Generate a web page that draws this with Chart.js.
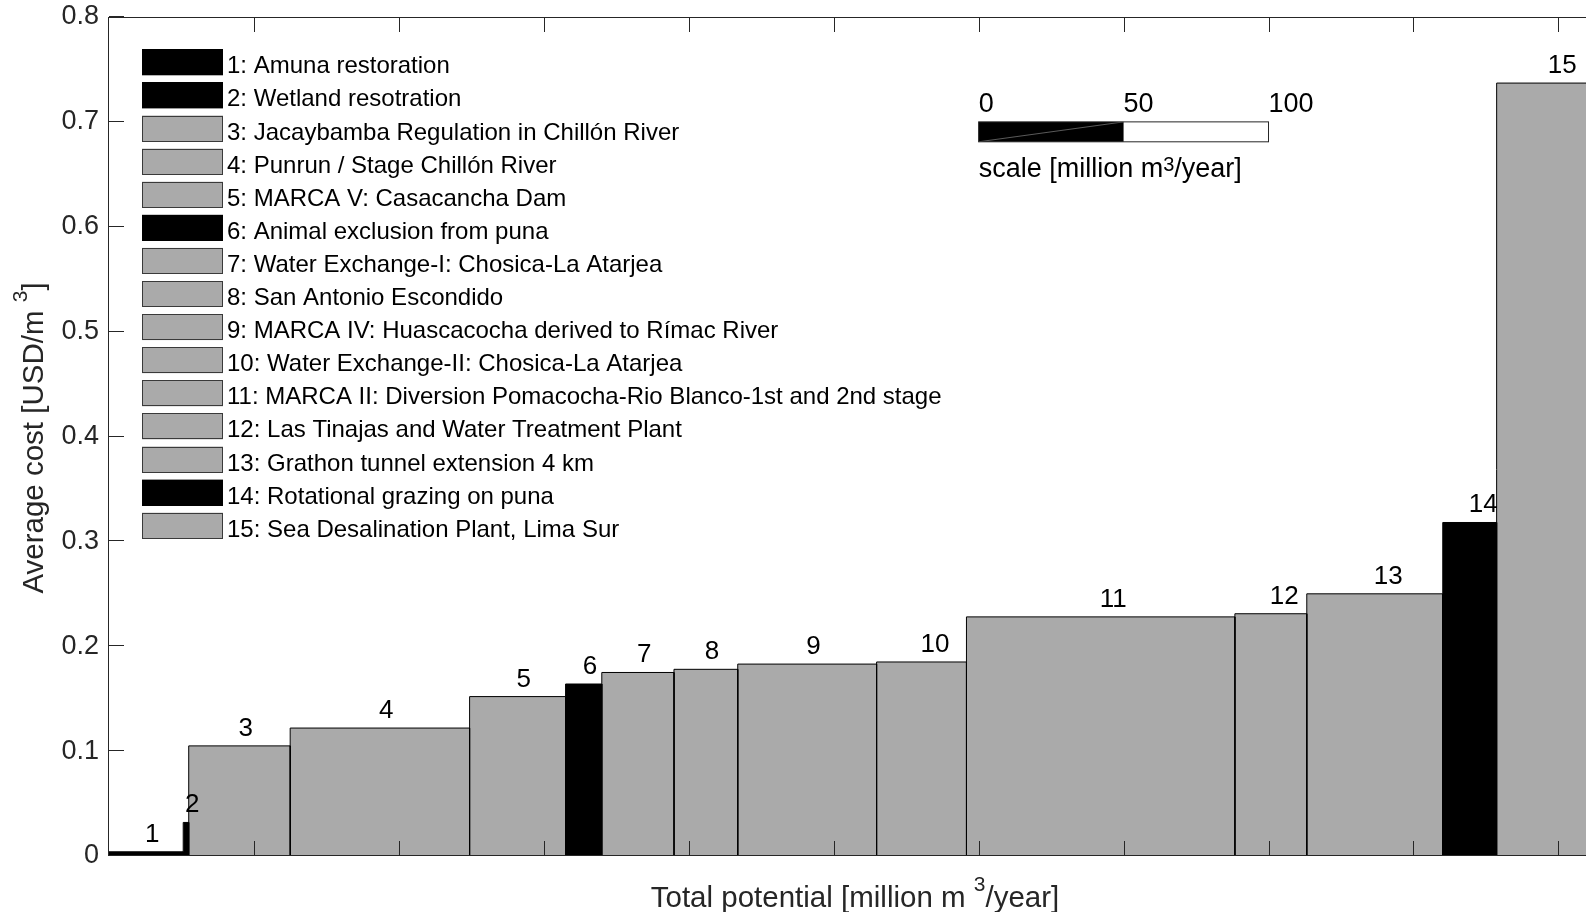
<!DOCTYPE html>
<html>
<head>
<meta charset="utf-8">
<title>Average cost curve - Lima water supply measures</title>
<script src="https://cdn.jsdelivr.net/npm/chart.js@4.4.1/dist/chart.umd.min.js"></script>
<style>
  html, body { margin: 0; padding: 0; background: #fff; overflow: hidden; }
  canvas { display: block; }
</style>
</head>
<body>
<canvas id="costChart" width="1602" height="912"></canvas>
<script>
// measures, in the order of the cost curve
const projects = [
  'Amuna restoration',
  'Wetland resotration',
  'Jacaybamba Regulation in Chillón River',
  'Punrun / Stage Chillón River',
  'MARCA V: Casacancha Dam',
  'Animal exclusion from puna',
  'Water Exchange-I: Chosica-La Atarjea',
  'San Antonio Escondido',
  'MARCA IV: Huascacocha derived to Rímac River',
  'Water Exchange-II: Chosica-La Atarjea',
  'MARCA II: Diversion Pomacocha-Rio Blanco-1st and 2nd stage',
  'Las Tinajas and Water Treatment Plant',
  'Grathon tunnel extension 4 km',
  'Rotational grazing on puna',
  'Sea Desalination Plant, Lima Sur'
];
// potential of each measure [million m3/year] -> bar width
const potential = [25.6, 1.9, 35.0, 61.9, 33.1, 12.5, 24.9, 22.0, 47.9, 31.0, 92.6, 24.8, 46.9, 18.6, 36.0];
// average cost [USD/m3] -> bar height
const avgCost = [0.004, 0.032, 0.105, 0.122, 0.152, 0.164, 0.175, 0.178, 0.183, 0.185, 0.228, 0.231, 0.250, 0.318, 0.737];
// green = natural infrastructure (black), grey = built infrastructure
const kind = ['green', 'green', 'grey', 'grey', 'grey', 'green', 'grey', 'grey', 'grey', 'grey', 'grey', 'grey', 'grey', 'green', 'grey'];

const yTickStep = 0.1;
const xTickStep = 50;           // unlabelled ticks on the potential axis
const scaleBarTicks = [0, 50, 100];

const FONT = '"Liberation Sans", Arial, Helvetica, sans-serif';
const INK = '#262626';
const fillFor = k => (k === 'green' ? '#000000' : '#aaaaaa');

// left edge of every bar = running total of the potentials before it
const starts = [];
let total = 0;
potential.forEach(w => { starts.push(total); total += w; });

const datasets = projects.map((name, i) => {
  const x0 = starts[i], x1 = starts[i] + potential[i];
  return {
    label: (i + 1) + ': ' + name,
    data: [{x: x0, y: 0}, {x: x0, y: avgCost[i]}, {x: x1, y: avgCost[i]}, {x: x1, y: 0}],
    fill: 'origin',
    backgroundColor: fillFor(kind[i]),
    borderColor: '#000',
    borderWidth: 1,
    pointRadius: 0,
    tension: 0
  };
});

// text with a raised "3" in the middle
function supText(ctx, before, sup, after, y, size, supSize, raise) {
  ctx.font = size + 'px ' + FONT;
  const w1 = ctx.measureText(before).width;
  const w3 = ctx.measureText(after).width;
  ctx.font = supSize + 'px ' + FONT;
  const w2 = ctx.measureText(sup).width;
  return {
    width: w1 + w2 + w3,
    draw(x0) {
      ctx.font = size + 'px ' + FONT;
      ctx.fillText(before, x0, y);
      ctx.font = supSize + 'px ' + FONT;
      ctx.fillText(sup, x0 + w1, y - raise);
      ctx.font = size + 'px ' + FONT;
      ctx.fillText(after, x0 + w1 + w2, y);
    }
  };
}

const decorations = {
  id: 'decorations',
  afterDatasetsDraw(chart) {
    const {ctx, chartArea: a, scales: {x, y}} = chart;
    ctx.save();
    ctx.strokeStyle = INK;
    ctx.lineWidth = 1;
    // axes box
    ctx.strokeRect(a.left - 0.5, a.top + 0.5, a.width, a.height - 1);
    // inward ticks
    const tl = 15;
    ctx.beginPath();
    for (let v = 0; v <= 0.8 + 1e-9; v += yTickStep) {
      const py = Math.round(y.getPixelForValue(v)) - 0.5;
      ctx.moveTo(a.left, py); ctx.lineTo(a.left + tl, py);
      ctx.moveTo(a.right, py); ctx.lineTo(a.right - tl, py);
    }
    for (let v = xTickStep; v < total; v += xTickStep) {
      const px = Math.round(x.getPixelForValue(v)) + 0.5;
      ctx.moveTo(px, a.bottom); ctx.lineTo(px, a.bottom - tl);
      ctx.moveTo(px, a.top); ctx.lineTo(px, a.top + tl);
    }
    ctx.stroke();
    ctx.restore();
  },
  afterDraw(chart) {
    const {ctx, chartArea: a, scales: {x, y}} = chart;
    ctx.save();
    ctx.textBaseline = 'alphabetic';
    ctx.textAlign = 'left';

    // number above every bar
    ctx.fillStyle = '#000';
    ctx.font = '26px ' + FONT;
    potential.forEach((w, i) => {
      ctx.fillText(String(i + 1), x.getPixelForValue(starts[i] + w / 2) - 1, y.getPixelForValue(avgCost[i]) - 10);
    });

    // legend in the upper left corner
    const boxL = a.left + 33, boxW = 81, boxH = 26, rowH = 33.1, row0 = a.top + 45.3;
    ctx.font = '24px ' + FONT;
    datasets.forEach((ds, i) => {
      const cy = row0 + i * rowH;
      ctx.fillStyle = ds.backgroundColor;
      ctx.fillRect(boxL, cy - boxH / 2, boxW, boxH);
      ctx.strokeStyle = kind[i] === 'green' ? '#000' : '#3a3a3a';
      ctx.lineWidth = 1;
      ctx.strokeRect(boxL + 0.5, Math.round(cy - boxH / 2) + 0.5, boxW - 1, boxH - 1);
      ctx.fillStyle = '#000';
      ctx.fillText(ds.label, boxL + boxW + 4, cy + 11);
    });

    // scale bar
    const sx0 = x.getPixelForValue(300), sxm = x.getPixelForValue(350), sx1 = x.getPixelForValue(400);
    const sTop = y.getPixelForValue(0.70), sBot = y.getPixelForValue(0.681);
    ctx.fillStyle = '#fff';
    ctx.fillRect(sx0, sTop, sx1 - sx0, sBot - sTop);
    ctx.fillStyle = '#000';
    ctx.fillRect(sx0, sTop, sxm - sx0, sBot - sTop);
    ctx.strokeStyle = 'rgba(190,190,190,0.8)';
    ctx.lineWidth = 0.6;
    ctx.beginPath(); ctx.moveTo(sx0, sBot); ctx.lineTo(sxm, sTop); ctx.stroke();
    ctx.strokeStyle = INK;
    ctx.lineWidth = 1;
    ctx.strokeRect(sx0, sTop, sx1 - sx0, sBot - sTop);
    ctx.fillStyle = '#000';
    ctx.font = '27px ' + FONT;
    scaleBarTicks.forEach(t => ctx.fillText(String(t), x.getPixelForValue(300 + t), sTop - 10));
    supText(ctx, 'scale [million m', '3', '/year]', sBot + 35, 27, 20, 6).draw(sx0);

    // axis titles
    ctx.fillStyle = INK;
    const xt = supText(ctx, 'Total potential [million m ', '3', '/year]', 907, 29.5, 21, 16);
    xt.draw((a.left + a.right) / 2 - xt.width / 2);

    ctx.translate(43.3, (a.top + a.bottom) / 2 + 1.5);
    ctx.rotate(-Math.PI / 2);
    const yt = supText(ctx, 'Average cost [USD/m ', '3', ']', 0, 29.5, 21, 16);
    yt.draw(-yt.width / 2);
    ctx.restore();
  }
};

new Chart(document.getElementById('costChart').getContext('2d'), {
  type: 'line',
  data: { datasets },
  options: {
    responsive: false,
    animation: false,
    layout: { padding: { top: 17, right: 1, bottom: 0, left: 0 } },
    plugins: { legend: { display: false }, tooltip: { enabled: false } },
    scales: {
      x: {
        type: 'linear',
        min: 0,
        max: total,
        ticks: { display: false },
        grid: { display: false, drawTicks: false },
        border: { display: false },
        afterFit: s => { s.height = 56; s.paddingLeft = 0; s.paddingRight = 0; }
      },
      y: {
        min: 0,
        max: 0.8,
        ticks: {
          stepSize: yTickStep,
          padding: 10,
          color: INK,
          font: { family: FONT, size: 27 },
          callback: v => String(Math.round(v * 10) / 10)
        },
        grid: { display: false, drawTicks: false },
        border: { display: false },
        afterFit: s => { s.width = 109; s.paddingTop = 0; s.paddingBottom = 0; }
      }
    }
  },
  plugins: [decorations]
});
</script>
</body>
</html>
